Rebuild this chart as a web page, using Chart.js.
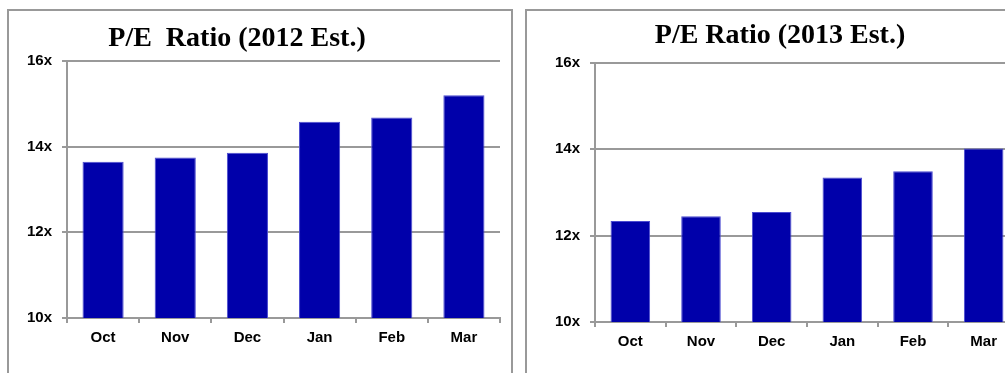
<!DOCTYPE html>
<html>
<head>
<meta charset="utf-8">
<script src="https://cdn.jsdelivr.net/npm/chart.js@4.4.0/dist/chart.umd.min.js"></script>
<style>
    html, body { margin: 0; padding: 0; background: #fff; overflow: hidden; width: 1005px; height: 373px; }
    .box { position: absolute; border: 2px solid #999; background: #fff; }
    #box2012 { left: 7px; top: 9px; width: 502px; height: 400px; }
    #box2013 { left: 525px; top: 9px; width: 600px; height: 400px; }
    canvas { position: absolute; top: 0; }
    #chart2012 { left: 0; }
    #chart2013 { left: 520px; }
</style>
</head>
<body>
<div class="box" id="box2012"></div>
<div class="box" id="box2013"></div>
<canvas id="chart2012" width="520" height="373"></canvas>
<canvas id="chart2013" width="520" height="373"></canvas>
<script>
// Months shown on both charts
const months = ['Oct', 'Nov', 'Dec', 'Jan', 'Feb', 'Mar'];

// P/E multiples
const pe2012 = [13.65, 13.75, 13.86, 14.58, 14.68, 15.2];
const pe2013 = [12.34, 12.45, 12.55, 13.35, 13.49, 14.02];

// y axis range (10x .. 16x, every 2x)
const yMin = 10;
const yMax = 16;
const yStep = 2;

const gridGray = '#999';
const barBlue = '#0000aa';

// draws the serif title at a fixed spot inside the box
const boxTitle = {
    id: 'boxTitle',
    afterDraw(chart, args, opts) {
        const ctx = chart.ctx;
        ctx.save();
        ctx.font = 'bold 28px "Liberation Serif", "Times New Roman", serif';
        ctx.fillStyle = '#000';
        ctx.textAlign = 'center';
        ctx.textBaseline = 'alphabetic';
        ctx.fillText(opts.text, opts.x, opts.y);
        ctx.restore();
    }
};

function makeChart(id, values, title, cfg) {
    return new Chart(document.getElementById(id), {
        type: 'bar',
        data: {
            labels: months,
            datasets: [{
                data: values,
                backgroundColor: barBlue,
                borderColor: '#4b4bd0',
                borderWidth: 1,
                categoryPercentage: 1,
                barPercentage: cfg.barPct
            }]
        },
        plugins: [boxTitle],
        options: {
            responsive: false,
            animation: false,
            layout: {
                padding: { left: 0, right: cfg.right, top: cfg.top, bottom: cfg.bottom }
            },
            plugins: {
                legend: { display: false },
                title: { display: false },
                tooltip: { enabled: false },
                boxTitle: { text: title, x: cfg.titleX, y: cfg.titleY }
            },
            scales: {
                x: {
                    grid: {
                        offset: true,
                        drawOnChartArea: false,
                        drawTicks: true,
                        tickLength: 5,
                        color: gridGray,
                        lineWidth: 2
                    },
                    border: { display: true, color: gridGray, width: 2 },
                    ticks: {
                        color: '#000',
                        padding: 6,
                        font: { family: 'Arial, "Liberation Sans"', size: 15, weight: 'bold' }
                    },
                    afterFit(scale) { scale.height = 40; }
                },
                y: {
                    min: yMin,
                    max: yMax,
                    grid: {
                        color: gridGray,
                        lineWidth: 2,
                        drawTicks: true,
                        tickLength: 5
                    },
                    border: { display: true, color: gridGray, width: 2 },
                    ticks: {
                        stepSize: yStep,
                        color: '#000',
                        padding: 10,
                        font: { family: 'Arial, "Liberation Sans"', size: 15, weight: 'bold' },
                        callback: v => v + 'x'
                    },
                    afterFit(scale) { scale.width = cfg.yWidth; }
                }
            }
        }
    });
}

makeChart('chart2012', pe2012, 'P/E  Ratio (2012 Est.)', {
    yWidth: 67, right: 20, top: 61, bottom: 15, barPct: 0.57, titleX: 237, titleY: 46
});
makeChart('chart2013', pe2013, 'P/E Ratio (2013 Est.)', {
    yWidth: 75, right: 21, top: 63, bottom: 11, barPct: 0.56, titleX: 260, titleY: 43
});
</script>
</body>
</html>
